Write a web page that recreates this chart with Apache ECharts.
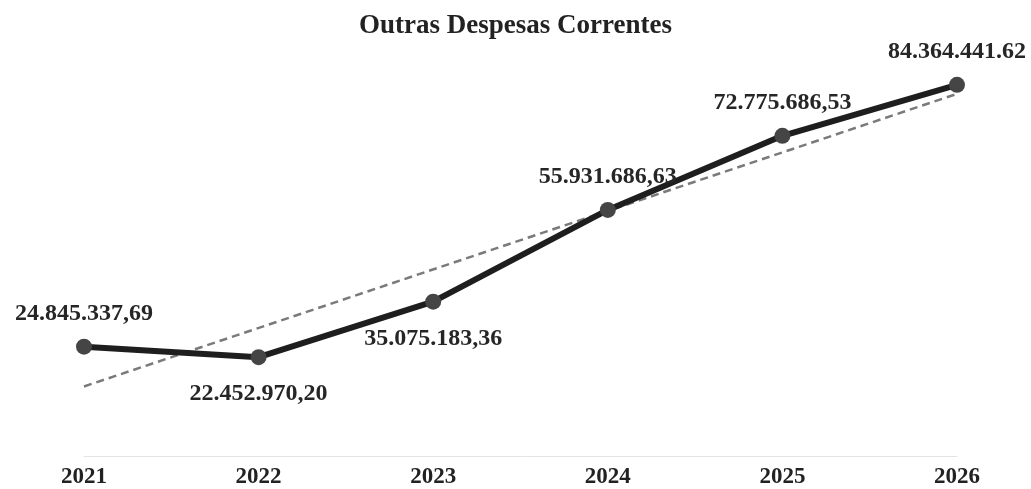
<!DOCTYPE html>
<html>
<head>
<meta charset="utf-8">
<script src="https://cdn.jsdelivr.net/npm/echarts@6/dist/echarts.min.js"></script>
<style>
html, body { margin: 0; padding: 0; background: #fff; }
#main { width: 1031px; height: 489px; }
</style>
</head>
<body>
<div id="main"></div>
<script>
// dados
var anos = ['2021', '2022', '2023', '2024', '2025', '2026'];
var valores = [24845337.69, 22452970.20, 35075183.36, 55931686.63, 72775686.53, 84364441.62];
var rotulos = ['24.845.337,69', '22.452.970,20', '35.075.183,36', '55.931.686,63', '72.775.686,53', '84.364.441.62'];
// linha de tendência (pontas)
var tendencia = [15800000, '-', '-', '-', '-', 82300000];

var posicoes = ['top', 'bottom', 'bottom', 'top', 'top', 'top'];

var myChart = echarts.init(document.getElementById('main'));

var pontos = valores.map(function (v, i) {
  return {
    value: v,
    label: {
      position: posicoes[i],
      distance: posicoes[i] == 'top' ? 13 : 17,
      formatter: rotulos[i]
    }
  };
});

var option = {
  backgroundColor: '#fff',
  animation: false,
  title: {
    text: 'Outras Despesas Correntes',
    left: 'center',
    top: 8,
    textStyle: { fontFamily: 'Liberation Serif', fontWeight: 'bold', fontSize: 27, color: '#222' }
  },
  grid: { left: 84, right: 74, top: 60, bottom: 31 },
  xAxis: {
    type: 'category',
    boundaryGap: false,
    data: anos,
    axisLine: { show: true, lineStyle: { color: '#e4e4e4', width: 1 } },
    axisTick: { show: false },
    axisLabel: { margin: 10, fontFamily: 'Liberation Serif', fontWeight: 'bold', fontSize: 23, color: '#222' }
  },
  yAxis: {
    type: 'value',
    min: 0,
    max: 90000000,
    show: false,
    splitLine: { show: false }
  },
  series: [
    {
      name: 'Tendência',
      type: 'line',
      data: tendencia,
      connectNulls: true,
      symbol: 'none',
      lineStyle: { color: '#7a7a7a', width: 2.5, type: [8, 5] },
      z: 1
    },
    {
      name: 'Outras Despesas Correntes',
      type: 'line',
      data: pontos,
      symbol: 'circle',
      symbolSize: 16,
      itemStyle: { color: '#454545' },
      lineStyle: { color: '#1e1e1e', width: 6 },
      label: {
        show: true,
        fontFamily: 'Liberation Serif',
        fontWeight: 'bold',
        fontSize: 24,
        color: '#262626'
      },
      z: 2
    }
  ]
};

myChart.setOption(option);
</script>
</body>
</html>
